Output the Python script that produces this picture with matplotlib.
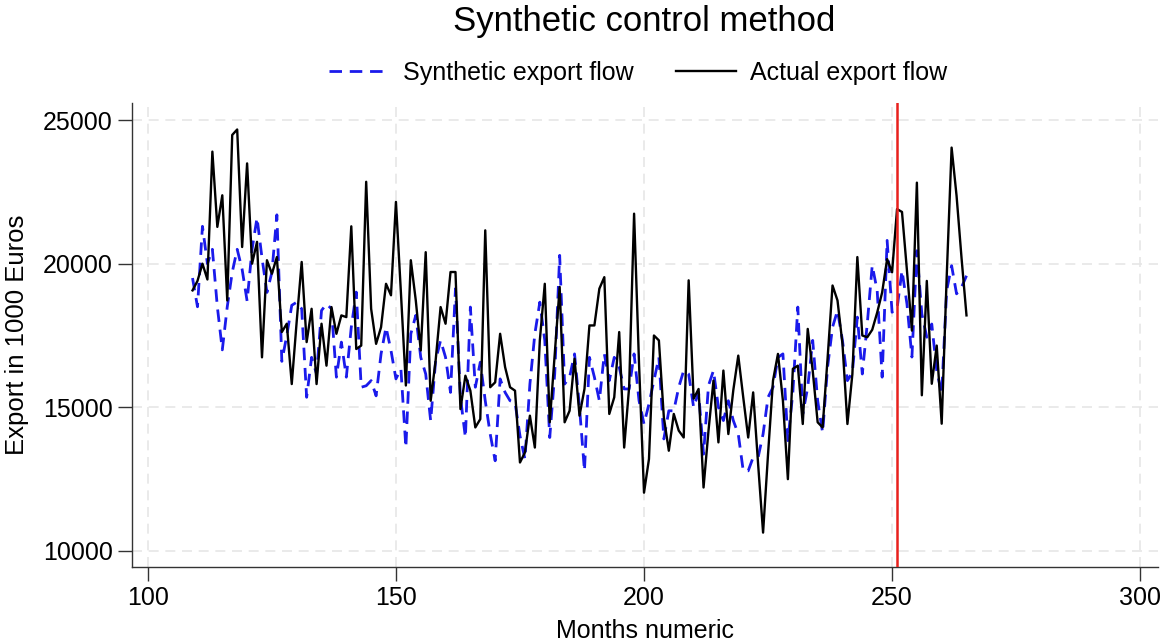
import matplotlib
matplotlib.use("Agg")
import matplotlib.pyplot as plt
import numpy as np

plt.rcParams['font.family'] = ['Liberation Sans', 'DejaVu Sans']

months = list(range(109, 266))

actual = [
    19070, 19400, 20000, 19450, 23900, 21280, 22380, 18720, 24480, 24670,
    20580, 23490, 20000, 20760, 16740, 20120, 19650, 20230, 17620, 17910,
    15810, 18000, 20060, 17270, 18430, 15810, 17910, 16450, 18490, 17560,
    18200, 18140, 21300, 17030, 17150, 22850, 18430, 17210, 17790, 19300,
    18900, 22150, 19000, 15760, 20120, 18720, 16980, 20400, 15230, 16630,
    18490, 17910, 19710, 19710, 14940, 16100, 15580, 14300, 14590, 21160,
    15700, 15870, 17560, 16400, 15700, 15580, 13080, 13430, 14710, 13600,
    17330, 19300, 14480, 16860, 19190, 14480, 14880, 16690, 14710, 15640,
    17850, 17850, 19130, 19530, 14770, 15350, 17620, 13600, 15700, 21740,
    16500, 12030, 13200, 17500, 17330, 14650, 13490, 14770, 14190, 13950,
    19420, 15300, 15640, 12210, 14190, 15930, 13780, 16280, 14070, 15600,
    16800, 15350, 13950, 15520, 13020, 10640, 13370, 15930, 16860, 15230,
    12500, 16340, 16450, 14420, 17730, 16280, 14480, 14300, 16700, 19240,
    18720, 17210, 14420, 16160, 20230, 17500, 17440, 17700, 18300, 19000,
    20160, 19700, 21900, 21800, 19760, 17670, 22820, 15420, 19400, 15820,
    17150, 14430, 19500, 24040, 22360, 20200, 18200,
]

synthetic = [
    19500, 18500, 21300, 20000, 20500, 18500, 17000, 18500, 19700, 20500,
    19800, 18700, 20500, 21600, 20200, 19000, 19700, 21700, 16600, 17500,
    18550, 18660, 18430, 15350, 16740, 16160, 18370, 18600, 18430, 16050,
    17270, 16050, 17790, 19010, 15700, 15750, 15930, 15400, 16860, 17790,
    16980, 15990, 16340, 13600, 17560, 18200, 16740, 16160, 14530, 16630,
    17330, 16740, 15520, 19130, 15350, 13950, 18490, 15700, 16570, 15230,
    14070, 13140, 15990, 15520, 15230, 15170, 14010, 13200, 15810, 17560,
    18660, 17330, 13950, 16160, 20290, 15810, 16050, 16860, 15000, 12790,
    16740, 16050, 15230, 16860, 15930, 16740, 16400, 15640, 15640, 16860,
    15230, 14420, 15120, 15930, 16740, 13900, 14880, 14880, 15700, 16280,
    16160, 15000, 15520, 13370, 15760, 16280, 15000, 14540, 15230, 14540,
    14070, 12790, 12790, 13260, 13260, 14070, 15350, 15700, 16740, 16860,
    13840, 15520, 18490, 14770, 15700, 17330, 15230, 14120, 16400, 17790,
    18370, 17330, 15930, 16220, 18140, 16160, 17910, 19940, 19060, 16050,
    20810, 18310, 18430, 19760, 18600, 16750, 20450, 18250, 17440, 17900,
    16280, 15470, 19060, 19930, 18950, 19180, 19580,
]

treatment_month = 251
x_ticks = [100, 150, 200, 250, 300]
y_ticks = [10000, 15000, 20000, 25000]

W, H = 1161, 642
fig = plt.figure(figsize=(W / 100, H / 100), dpi=100)
ax = fig.add_axes([132 / W, 1 - 567 / H, (1158 - 132) / W, (567 - 103) / H])

grid_kw = dict(color='#e6e6e6', linestyle=(0, (6, 4)), linewidth=1.2, zorder=0)
for xv in x_ticks:
    ax.axvline(xv, **grid_kw)
for yv in y_ticks:
    ax.axhline(yv, **grid_kw)

ax.plot(months, synthetic, color='#1a1aeb', linestyle=(0, (4.5, 2.8)), linewidth=2.0,
        label='Synthetic export flow', zorder=3)
ax.plot(months, actual, color='black', linewidth=1.7, label='Actual export flow', zorder=4)
ax.axvline(treatment_month, color='#e8201c', linewidth=1.8, zorder=5)

ax.set_xlim(96.8, 303.6)
ax.set_ylim(9443, 25592)
ax.set_xticks(x_ticks)
ax.set_yticks(y_ticks)
ax.tick_params(axis='both', direction='out', length=10, width=1.0, color='#333333',
               labelsize=18, pad=4)
for s in ['top', 'right']:
    ax.spines[s].set_visible(False)
for s in ['left', 'bottom']:
    ax.spines[s].set_color('#333333')
    ax.spines[s].set_linewidth(1.0)

ax.set_xlabel('Months numeric', fontsize=18, labelpad=6)
ax.set_ylabel('Export in 1000 Euros', fontsize=18.5, labelpad=10)

fig.text(644 / W, 1 - 22 / H, 'Synthetic control method', ha='center', va='center', fontsize=25)
fig.legend(loc='center', bbox_to_anchor=(638 / W, 1 - 73 / H), ncol=2, frameon=False,
           fontsize=18, handlelength=2.4, columnspacing=1.7, handletextpad=0.55)

fig.savefig('out.png', dpi=100)
